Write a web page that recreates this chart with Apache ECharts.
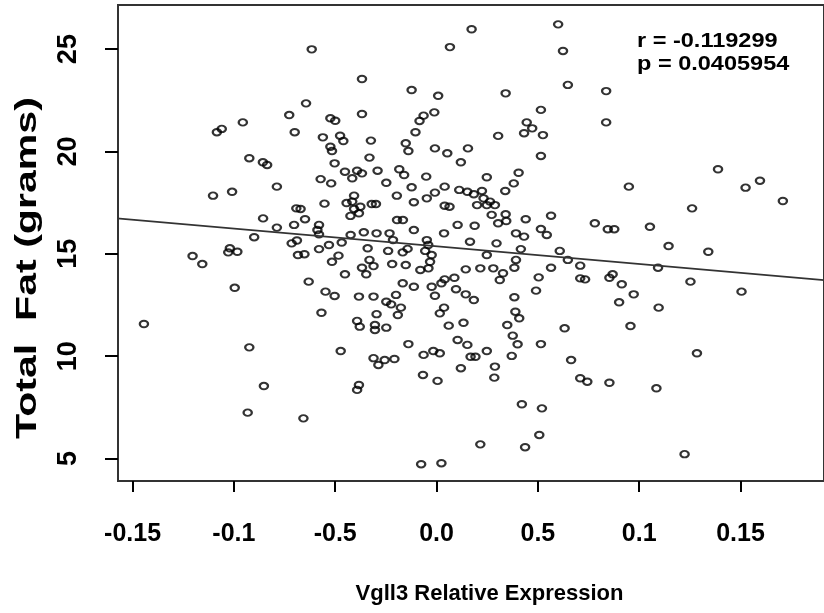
<!DOCTYPE html>
<html><head><meta charset="utf-8">
<script src="https://cdn.jsdelivr.net/npm/echarts@6/dist/echarts.min.js"></script>
<style>html,body{margin:0;padding:0;background:#fff}#c{width:824px;height:613px}</style>
</head><body><div id="c"></div>
<script>
const xTickValues = [-0.15, -0.10, -0.05, 0, 0.05, 0.10, 0.15];
const xTickLabels = ['-0.15', '-0.1', '-0.5', '0.0', '0.5', '0.1', '0.15'];
const yTickValues = [5, 10, 15, 20, 25];
const yTickLabels = ['5', '10', '15', '20', '25'];
const xTitle = 'Vgll3 Relative Expression';
const yTitle = 'Total  Fat (grams)';
const statLines = ['r = -0.119299', 'p = 0.0405954'];
const fitX = [-0.16, 0.20];
const fitY = [16.75, 13.64];

const vgll3 = [
 -0.0616,-0.0644,-0.0727,-0.0524,-0.0500,-0.0956,-0.1084,-0.1060,-0.0700,-0.0561,-0.0476,-0.0460,-0.0524,-0.0516,-0.0924,-0.0857,-0.0836,-0.0503,-0.0452,-0.0572,-0.0520,-0.0788,-0.1103,-0.1009,-0.0553,-0.0444,-0.0692,-0.0671,-0.0856,-0.0649,-0.0703,-0.0580,-0.0588,-0.0580,-0.0788,-0.0900,-0.0689,-0.0468,-0.0715,
 -0.1204,-0.1156,-0.1028,-0.0983,-0.1020,-0.0996,-0.1444,-0.0924,-0.0852,-0.0932,-0.0657,-0.0631,-0.0548,-0.0503,-0.0568,-0.0473,-0.0684,-0.0652,-0.0580,-0.0484,-0.0516,-0.0452,-0.0531,
 0.0600,0.0173,0.0624,0.0066,-0.0368,-0.0123,0.0008,0.0648,0.0341,0.0515,-0.0368,-0.0011,-0.0064,-0.0084,0.0445,0.0472,0.0432,0.0525,-0.0104,0.0304,-0.0324,-0.0152,-0.0139,-0.0008,0.0053,0.0155,0.0515,-0.0331,0.0120,
 -0.0392,-0.0416,-0.0368,-0.0291,-0.0184,-0.0160,-0.0248,-0.0051,0.0248,0.0405,0.0381,-0.0123,0.0040,-0.0008,-0.0048,0.0112,0.0152,0.0184,0.0224,0.0232,0.0264,0.0288,0.0200,0.0248,0.0339,
 -0.0407,-0.0416,-0.0407,-0.0383,-0.0376,-0.0320,-0.0299,-0.0196,-0.0112,0.0040,0.0064,-0.0195,-0.0166,-0.0112,0.0104,0.0188,0.0272,0.0341,0.0304,0.0344,0.0440,0.0565,0.0515,0.0544,0.0392,0.0432,
 -0.0424,-0.0359,-0.0296,-0.0232,-0.0215,-0.0048,0.0037,0.0165,0.0296,-0.0425,-0.0041,
 -0.0340,-0.0239,-0.0167,-0.0143,-0.0056,-0.0024,-0.0331,-0.0368,-0.0311,-0.0347,-0.0219,-0.0152,-0.0080,-0.0040,-0.0032,0.0248,0.0416,0.0608,0.0648,0.0144,0.0216,0.0280,0.0328,0.0312,0.0384,0.0392,0.0565,0.0504,
 -0.0167,-0.0112,-0.0024,0.0024,0.0040,0.0088,-0.0008,0.0096,0.0144,0.0184,-0.0383,-0.0311,-0.0248,-0.0200,-0.0224,-0.0176,-0.0191,-0.0296,-0.0392,-0.0379,-0.0304,-0.0304,-0.0248,
 0.0037,0.0016,0.0060,0.0133,0.0384,0.0491,0.0389,0.0408,0.0349,0.0376,0.0400,0.0515,0.0632,-0.0139,0.0104,0.0152,-0.0064,-0.0016,0.0016,0.0168,0.0192,0.0248,0.0371,
 -0.0311,-0.0287,-0.0256,-0.0208,0.0120,0.0288,0.0285,-0.0067,0.0005,0.0664,-0.0383,-0.0392,0.0421,0.0520,0.0507,0.0216,0.0437,-0.0076,0.0024,
 0.1145,0.1341,0.0709,0.0709,0.0733,0.0869,0.0853,0.0914,0.1093,0.1253,0.1505,0.0973,0.0901,0.1096,0.0957,0.1285,0.0709,0.0744,0.0853,0.1085,0.1224,
 0.0837,0.0837,0.1389,0.0949,0.1525,0.1596,0.1709,0.1261,0.0781,0.0845,0.0877,0.1053
];
const totalFat = [
 24.99,22.35,21.78,21.62,21.50,21.42,20.94,21.10,20.94,20.69,20.77,20.51,20.23,20.02,19.67,19.47,19.34,19.42,19.01,18.65,18.44,18.28,17.84,18.03,17.45,17.48,17.22,17.19,16.73,16.69,16.41,16.41,16.16,15.95,16.28,15.81,15.65,15.55,15.51,
 14.89,14.50,15.07,15.10,15.27,13.34,11.57,10.43,8.54,7.24,6.96,13.64,13.15,12.94,12.12,10.25,14.94,14.98,15.23,14.91,14.61,14.00,15.43,
 26.21,25.97,24.91,25.10,23.54,23.00,22.72,23.25,22.84,22.03,21.83,21.91,21.75,21.49,21.42,21.13,20.89,20.80,20.94,20.76,20.53,20.40,20.02,20.15,19.91,20.15,19.78,19.70,19.47,
 19.06,18.69,18.93,19.06,19.13,18.85,18.47,18.77,18.74,18.96,18.44,18.25,18.28,17.99,17.71,18.12,18.03,17.91,18.07,17.71,17.55,17.38,17.38,17.38,18.07,
 17.84,17.55,17.19,16.98,17.30,17.43,17.43,17.84,17.52,17.35,17.30,16.65,16.65,16.16,16.41,16.37,16.90,16.93,16.49,16.60,16.69,16.86,16.21,15.92,16.00,15.84,
 15.92,16.05,16.00,16.00,15.67,15.67,16.00,15.59,15.51,16.85,15.43,
 15.27,15.14,15.07,15.24,15.14,14.94,14.70,14.32,14.40,14.00,14.50,14.45,14.21,14.29,14.61,14.94,15.23,15.14,14.70,14.24,14.29,14.29,14.05,13.72,14.32,14.70,14.32,13.85,
 13.56,13.39,13.39,13.56,13.75,13.83,12.95,13.27,13.02,12.74,12.91,12.91,12.66,12.99,12.53,12.37,12.01,12.05,11.72,11.44,11.52,11.28,11.39,
 12.37,12.09,11.49,11.63,12.88,13.20,12.17,11.85,11.52,11.00,10.58,10.59,11.36,10.59,10.79,10.55,10.06,10.25,10.14,9.97,9.97,10.25,10.01,
 9.90,9.57,9.81,9.86,9.41,9.49,8.95,9.08,8.79,9.81,8.59,8.35,7.65,7.45,6.15,5.69,5.55,4.72,4.77,
 15.38,15.10,14.42,13.80,13.75,14.00,13.83,13.51,14.32,13.64,13.15,13.02,12.63,12.37,11.47,10.14,8.92,8.75,8.70,8.43,5.21,
 22.95,21.42,19.13,18.28,18.23,18.57,17.58,17.22,16.49,16.20,16.20,16.32
];

const FONT = 'Liberation Sans, Arial, Helvetica, sans-serif';
function labelFor(values, labels, v) {
  let best = 0;
  for (let i = 1; i < values.length; i++) if (Math.abs(values[i] - v) < Math.abs(values[best] - v)) best = i;
  return labels[best];
}
const points = vgll3.map((x, i) => [x, totalFat[i]]);

const chart = echarts.init(document.getElementById('c'), null, {renderer: 'canvas'});
chart.setOption({
  animation: false,
  backgroundColor: '#fff',
  grid: {left: 118, top: 5, width: 726, height: 476, show: true, borderColor: '#333', borderWidth: 2, backgroundColor: 'transparent'},
  xAxis: {
    type: 'value', min: -0.1572, max: 0.1912,
    axisLine: {show: true, onZero: false, lineStyle: {color: '#333', width: 2}},
    axisTick: {show: true, customValues: xTickValues, length: 11, lineStyle: {color: '#000', width: 2}},
    axisLabel: {customValues: xTickValues, formatter: v => labelFor(xTickValues, xTickLabels, v),
      fontSize: 25, fontWeight: 'bold', color: '#000', fontFamily: FONT, margin: 41},
    splitLine: {show: false}
  },
  yAxis: {
    type: 'value', min: 3.90, max: 27.155,
    axisLine: {show: true, onZero: false, lineStyle: {color: '#333', width: 2}},
    axisTick: {show: true, customValues: yTickValues, length: 13, lineStyle: {color: '#000', width: 2}},
    axisLabel: {customValues: yTickValues, formatter: v => labelFor(yTickValues, yTickLabels, v),
      rotate: 90, fontSize: 27, fontWeight: 'bold', color: '#000', fontFamily: FONT, margin: 36},
    splitLine: {show: false}
  },
  series: [
    {type: 'scatter', data: points, symbol: 'circle', symbolSize: [8.2, 6.5],
      itemStyle: {color: 'rgba(0,0,0,0)', borderColor: '#000', borderWidth: 2.1}, z: 2},
    {type: 'line', data: fitX.map((x, i) => [x, fitY[i]]), symbol: 'none', clip: true,
      lineStyle: {color: '#333', width: 1.6}, z: 3}
  ],
  graphic: [
    {type: 'text', x: 637, y: 30, scaleX: 1.12, z: 100,
      style: {text: statLines.join('\n'), font: 'bold 21px ' + FONT, fill: '#000', lineHeight: 23,
        verticalAlign: 'top', backgroundColor: '#fff', padding: [0, 2, 14, 0]}},
    {type: 'text', x: 489.5, y: 594, z: 100,
      style: {text: xTitle, font: 'bold 22px ' + FONT, fill: '#000', align: 'center', verticalAlign: 'middle'}},
    {type: 'text', x: 28, y: 268, rotation: Math.PI / 2, scaleX: 1.37, z: 100,
      style: {text: yTitle, font: 'bold 30px ' + FONT, fill: '#000', align: 'center', verticalAlign: 'middle'}}
  ]
});
</script></body></html>
